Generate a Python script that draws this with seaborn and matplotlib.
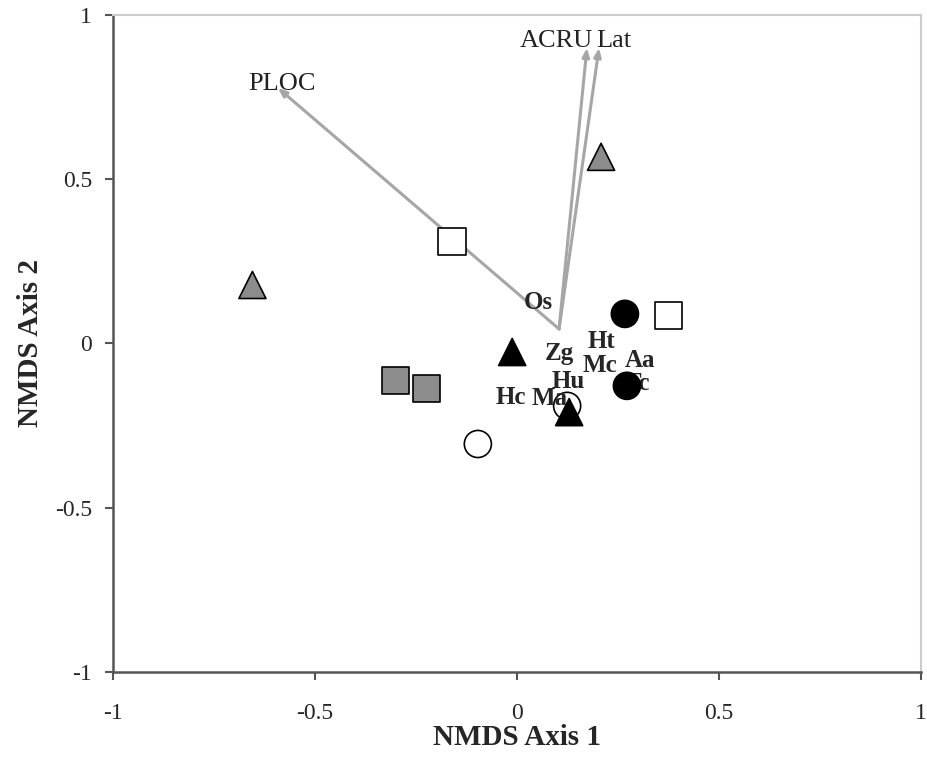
import matplotlib
matplotlib.use("Agg")
import matplotlib.pyplot as plt
import seaborn as sns
import pandas as pd

# Site scores
site_x = [0.208, -0.655, -0.161, 0.374, 0.267, 0.272, -0.012, 0.129, 0.124, -0.097, -0.300, -0.223]
site_y = [0.568, 0.178, 0.309, 0.084, 0.090, -0.129, -0.026, -0.209, -0.190, -0.306, -0.113, -0.138]
site_shape = ["tri", "tri", "sq", "sq", "circ", "circ", "tri", "tri", "circ", "circ", "sq", "sq"]
site_fill = ["gray", "gray", "white", "white", "black", "black", "black", "black", "white", "white", "gray", "gray"]

# Species labels
sp_names = ["Os", "Zg", "Ht", "Mc", "Aa", "Tc", "Hu", "Hc", "Ma"]
sp_x = [0.052, 0.106, 0.210, 0.205, 0.305, 0.297, 0.126, -0.015, 0.082]
sp_y = [0.126, -0.030, 0.007, -0.066, -0.051, -0.121, -0.117, -0.166, -0.169]

# Environmental vectors
vec_names = ["PLOC", "ACRU", "Lat"]
vec_origin = (0.104, 0.044)
vec_x = [-0.592, 0.173, 0.203]
vec_y = [0.778, 0.900, 0.900]

df = pd.DataFrame({"x": site_x, "y": site_y, "shape": site_shape, "fill": site_fill})

sns.set_style("white")
plt.rcParams["font.family"] = ["Liberation Serif", "DejaVu Serif"]

fig = plt.figure(figsize=(9.28, 7.57), dpi=100)
ax = fig.add_axes([0.1218, 0.1123, 0.8707, 0.8680])

vec_color = "#a6a6a6"
for name, ex, ey in zip(vec_names, vec_x, vec_y):
    ax.annotate("", xy=(ex, ey), xytext=vec_origin,
                arrowprops=dict(arrowstyle="-|>,head_length=0.5,head_width=0.2",
                                color=vec_color, lw=2.2, shrinkA=0, shrinkB=0),
                zorder=1)

ax.text(-0.665, 0.79, "PLOC", fontsize=19, ha="left", va="center", color="#222222", zorder=2)
ax.text(0.187, 0.92, "ACRU", fontsize=19, ha="right", va="center", color="#222222", zorder=2)
ax.text(0.197, 0.92, "Lat", fontsize=19, ha="left", va="center", color="#222222", zorder=2)

palette = {"gray": "#8c8c8c", "white": "white", "black": "black"}
markers = {"tri": "^", "sq": "s", "circ": "o"}

# open markers under the labels, filled markers over them
sns.scatterplot(data=df[df["fill"] == "white"], x="x", y="y", hue="fill", style="shape",
                palette=palette, markers=markers, s=380, edgecolor="black", linewidth=1.2,
                legend=False, ax=ax, zorder=2)

for n, x, y in zip(sp_names, sp_x, sp_y):
    ax.text(x, y, n, fontsize=18, fontweight="bold", ha="center", va="center", zorder=3)

sns.scatterplot(data=df[df["fill"] != "white"], x="x", y="y", hue="fill", style="shape",
                palette=palette, markers=markers, s=380, edgecolor="black", linewidth=1.2,
                legend=False, ax=ax, zorder=4)

ax.set_xlim(-1, 1)
ax.set_ylim(-1, 1)
ax.set_xticks([-1, -0.5, 0, 0.5, 1])
ax.set_xticklabels(["-1", "-0.5", "0", "0.5", "1"])
ax.set_yticks([-1, -0.5, 0, 0.5, 1])
ax.set_yticklabels(["-1", "-0.5", "0", "0.5", "1"])
ax.tick_params(axis="both", labelsize=17, length=6, width=1.5, color="#555555", direction="out",
               bottom=True, left=True)
ax.tick_params(axis="x", pad=16)
ax.tick_params(axis="y", pad=9)
ax.set_xlabel("NMDS Axis 1", fontsize=21, fontweight="bold", labelpad=0)
ax.set_ylabel("NMDS Axis 2", fontsize=21, fontweight="bold", labelpad=8)

for side in ["left", "bottom"]:
    ax.spines[side].set_color("#555555")
    ax.spines[side].set_linewidth(1.8)
for side in ["top", "right"]:
    ax.spines[side].set_color("#cccccc")
    ax.spines[side].set_linewidth(1.5)

fig.savefig("out.png", dpi=100)
